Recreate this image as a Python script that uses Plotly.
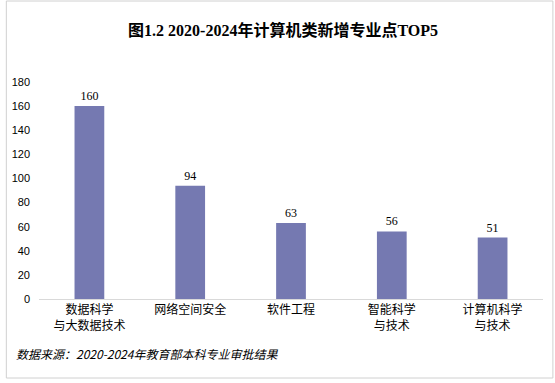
import plotly.graph_objects as go

categories = ["数据科学<br>与大数据技术", "网络空间安全", "软件工程", "智能科学<br>与技术", "计算机科学<br>与技术"]
values = [160, 94, 63, 56, 51]
y_ticks = [0, 20, 40, 60, 80, 100, 120, 140, 160, 180]

title_text = "图1.2 2020-2024年计算机类新增专业点TOP5"
source_text = "数据来源：2020-2024年教育部本科专业审批结果"

W, H = 555, 383
L, R, T, B = 34, 12, 82, 84
pw, ph = W - L - R, H - T - B

def px_x(x):
    return (x - L) / pw

def px_y(y):
    return (H - B - y) / ph

fig = go.Figure(go.Bar(
    x=categories, y=values,
    marker=dict(color="#7579B1", line=dict(width=0)),
    text=[str(v) for v in values], textposition="outside",
    textfont=dict(family="Liberation Serif, Noto Sans CJK SC", size=12, color="#000"),
    cliponaxis=False,
))

fig.update_layout(
    width=W, height=H,
    margin=dict(l=L, r=R, t=T, b=B),
    paper_bgcolor="white", plot_bgcolor="white",
    bargap=0.705,
    showlegend=False,
    font=dict(family="Noto Sans CJK SC", color="#000"),
    title=dict(text=title_text, x=0.51, xanchor="center", y=1 - 30 / H, yanchor="middle",
               font=dict(family="Liberation Serif, Noto Sans CJK SC", size=16, color="#000", weight="bold")),
    xaxis=dict(showgrid=False, showline=True, linecolor="#D9D9D9", linewidth=1, ticks="",
               tickfont=dict(family="Noto Sans CJK SC", size=12, color="#000")),
    yaxis=dict(range=[0, 180], tickvals=y_ticks, showgrid=False, showline=False, zeroline=False,
               ticks="", ticklabelstandoff=8,
               tickfont=dict(family="Liberation Sans, Arial", size=11, color="#000")),
    shapes=[dict(type="rect", xref="paper", yref="paper",
                 x0=px_x(1), x1=px_x(553), y0=px_y(378), y1=px_y(1),
                 line=dict(color="#D0D0D0", width=1), fillcolor="rgba(0,0,0,0)", layer="below")],
    annotations=[dict(text="<i>" + source_text + "</i>", xref="paper", yref="paper",
                      x=px_x(9), y=px_y(353), xanchor="left", yanchor="middle", showarrow=False,
                      font=dict(family="Noto Sans CJK SC", size=12, color="#000"))],
)

fig.write_html("out.html", config={"displayModeBar": False},
               post_script="document.body.style.margin='0';")
